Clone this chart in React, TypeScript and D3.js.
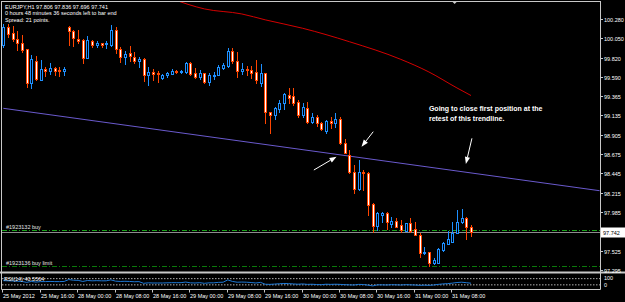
import React from 'react';
import * as d3 from 'd3';

const W = 625;
const H = 302;

// ---- Data (EURJPY H1) ----
const opens = [
  99.971, 100.185, 100.114, 100.042, 99.995, 99.923, 99.519, 99.781, 99.555, 99.685,
  99.662, 99.697, 99.674, 99.656, 100.185, 100.137, 100.042, 100.030, 99.816, 100.018,
  99.975, 99.995, 99.983, 99.975, 100.149, 99.929, 99.825, 99.872, 99.832, 99.784,
  99.808, 99.611, 99.650, 99.634, 99.578, 99.614, 99.626, 99.658, 99.646, 99.646,
  99.753, 99.634, 99.587, 99.641, 99.531, 99.602, 99.611, 99.694, 99.721, 99.903,
  99.784, 99.665, 99.682, 99.674, 99.646, 99.523, 99.641, 99.178, 99.138, 99.206,
  99.281, 99.382, 99.364, 99.293, 99.138, 99.222, 99.059, 99.118, 99.047, 98.948,
  99.067, 99.040, 99.094, 98.802, 98.663, 98.464, 98.255, 98.464, 98.445, 98.080,
  97.818, 97.949, 97.977, 97.842, 97.881, 97.830, 97.762, 97.851, 97.779, 97.711,
  97.494, 97.513, 97.375, 97.382, 97.533, 97.604, 97.632, 97.739, 97.870, 97.910,
  97.806,
];
const highs = [
  100.221, 100.221, 100.197, 100.137, 100.090, 99.923, 99.852, 99.840, 99.793, 99.709,
  99.757, 99.709, 99.709, 99.709, 100.197, 100.149, 100.149, 100.042, 100.078, 100.030,
  100.018, 99.995, 100.018, 100.212, 100.185, 99.951, 99.903, 99.959, 99.888, 99.832,
  99.816, 99.713, 99.689, 99.662, 99.622, 99.650, 99.682, 99.674, 99.674, 99.772,
  99.772, 99.694, 99.674, 99.641, 99.634, 99.650, 99.733, 99.753, 99.932, 99.935,
  99.888, 99.760, 99.721, 99.721, 99.793, 99.745, 99.641, 99.178, 99.237, 99.317,
  99.404, 99.456, 99.456, 99.317, 99.285, 99.293, 99.159, 99.138, 99.059, 99.079,
  99.118, 99.159, 99.115, 98.849, 98.722, 98.544, 98.603, 98.484, 98.464, 98.092,
  97.989, 97.989, 97.985, 97.922, 97.914, 97.890, 97.858, 97.910, 97.870, 97.732,
  97.572, 97.513, 97.434, 97.553, 97.628, 97.762, 97.870, 98.009, 98.017, 97.929,
  97.836,
];
const lows = [
  99.947, 100.066, 100.018, 99.911, 99.888, 99.471, 99.460, 99.555, 99.555, 99.602,
  99.626, 99.614, 99.602, 99.614, 99.971, 99.959, 99.995, 99.757, 99.816, 99.947,
  99.947, 99.947, 99.935, 99.959, 99.876, 99.769, 99.745, 99.784, 99.760, 99.709,
  99.546, 99.495, 99.555, 99.535, 99.567, 99.594, 99.626, 99.634, 99.634, 99.641,
  99.611, 99.575, 99.563, 99.523, 99.492, 99.563, 99.611, 99.682, 99.713, 99.753,
  99.587, 99.626, 99.614, 99.575, 99.515, 99.483, 99.040, 98.928, 99.087, 99.174,
  99.210, 99.281, 99.257, 99.118, 99.118, 99.043, 99.040, 99.008, 98.960, 98.928,
  98.980, 98.996, 98.794, 98.683, 98.449, 98.211, 98.246, 98.246, 97.949, 97.751,
  97.771, 97.870, 97.783, 97.810, 97.803, 97.751, 97.762, 97.751, 97.711, 97.453,
  97.485, 97.343, 97.367, 97.375, 97.525, 97.604, 97.632, 97.732, 97.858, 97.660,
  97.696,
];
const closes = [
  100.185, 100.102, 100.042, 99.995, 99.911, 99.519, 99.804, 99.567, 99.685, 99.662,
  99.697, 99.662, 99.662, 99.680, 100.137, 100.054, 100.018, 99.816, 100.030, 99.971,
  99.998, 99.975, 99.989, 100.149, 99.923, 99.828, 99.864, 99.840, 99.784, 99.808,
  99.611, 99.650, 99.622, 99.622, 99.614, 99.632, 99.658, 99.646, 99.658, 99.760,
  99.626, 99.594, 99.641, 99.531, 99.614, 99.614, 99.713, 99.729, 99.903, 99.784,
  99.662, 99.682, 99.668, 99.634, 99.555, 99.634, 99.178, 99.138, 99.218, 99.285,
  99.388, 99.337, 99.281, 99.144, 99.237, 99.055, 99.111, 99.040, 98.968, 99.067,
  99.040, 99.094, 98.802, 98.690, 98.464, 98.255, 98.464, 98.445, 98.068, 97.818,
  97.969, 97.977, 97.870, 97.881, 97.810, 97.771, 97.851, 97.762, 97.711, 97.494,
  97.513, 97.375, 97.414, 97.541, 97.620, 97.660, 97.739, 97.870, 97.910, 97.806,
  97.741,
];
const rsiValues = [
  57, 56, 55, 53, 52, 46, 52, 48, 51, 51, 52, 51, 51, 52,
  64, 60, 59, 52, 58, 56, 57, 56, 56, 62, 54, 52, 53, 52, 50, 51,
  40, 43, 42, 42, 42, 43, 44, 44, 44, 48, 43, 42, 44, 40, 43, 43, 46, 47,
  62, 52, 47, 48, 47, 45, 42, 46, 34, 33, 35, 37, 39, 38, 36, 34, 36, 33, 34, 32, 31, 34, 33, 34,
  33, 31, 30, 29, 33, 32, 28, 23, 30, 30, 29, 31, 30, 29, 31, 30, 29, 27, 28, 27, 29,
  33, 36, 38, 41, 45, 47, 44, 40.56,
];
const maBars = [36, 43, 51, 56, 64, 74, 85, 91, 97, 100];
const maValues = [100.52, 100.40, 100.34, 100.27, 100.17, 100.01, 99.80, 99.65, 99.46, 99.37];
const trendBars = [0, 127.5];
const trendPrices = [99.218, 98.238];
const priceTicks = [100.28, 100.05, 99.82, 99.59, 99.365, 99.135, 98.905, 98.675, 98.445, 98.215, 97.985, 97.525, 97.295];
const timeLabels = [
  '25 May 2012', '25 May 16:00', '28 May 00:00', '28 May 08:00', '28 May 16:00', '29 May 00:00',
  '29 May 08:00', '29 May 16:00', '30 May 00:00', '30 May 08:00', '30 May 16:00', '31 May 00:00', '31 May 08:00',
];
const timeLabelBars = [0, 8, 16, 24, 32, 40, 48, 56, 64, 72, 80, 88, 96];
const bidPrice = 97.742;
const buyPrice = 97.767;
const buyLimitPrice = 97.346;
const arrowsFrom = [[66.4, 98.484], [79.1, 98.94], [100.2, 98.861]];
const arrowsTo = [[71.25, 98.643], [76.6, 98.761], [98.9, 98.556]];
const noteLines = ['Going to close first position at the', 'retest of this trendline.'];
const headerLines = [
  'EURJPY,H1  97.806 97.836 97.696 97.741',
  '0 hours 48 minutes 36 seconds left to bar end',
  'Spread: 21 points.',
];

// ---- Layout ----
const plotLeft = 2;
const plotRight = 600;
const mainTop = 2;
const mainBottom = 271;
const rsiTop = 274;
const rsiBottom = 289.5;

const FONT = '"Liberation Sans", Arial, sans-serif';
const BULL = '#1e90ff';
const BEAR = '#ff4500';

export default function App() {
  const x = d3.scaleLinear().domain([0, 100]).range([3.3, 471]);
  const y = d3.scaleLinear().domain([97.295, 100.28]).range([270, 19]);
  const yr = d3.scaleLinear().domain([0, 100]).range([rsiBottom, rsiTop]);

  const maLine = d3.line<number>()
    .x((_, i) => x(maBars[i]))
    .y((d) => y(d))
    .curve(d3.curveMonotoneX)(maValues) || '';

  const rsiLine = d3.line<number>()
    .x((_, i) => x(i))
    .y((d) => yr(d))(rsiValues) || '';

  const candles = opens.map((o, i) => {
    const c = closes[i];
    const bull = c >= o;
    const color = bull ? BULL : BEAR;
    const cx = Math.round(x(i));
    const yTop = Math.round(y(Math.max(o, c)));
    const yBot = Math.round(y(Math.min(o, c)));
    const yH = Math.round(y(highs[i]));
    const yL = Math.round(y(lows[i]));
    return (
      <g key={i}>
        <line x1={cx + 0.5} x2={cx + 0.5} y1={yH} y2={yL + 1} stroke={color} strokeWidth={1} />
        <rect x={cx - 0.5} y={yTop + 0.5} width={2} height={Math.max(yBot - yTop, 0)}
          fill={bull ? '#000' : '#fff'} stroke={color} strokeWidth={1} />
      </g>
    );
  });

  const arrows = arrowsFrom.map((f, i) => {
    const x1 = x(f[0]), y1 = y(f[1]);
    const x2 = x(arrowsTo[i][0]), y2 = y(arrowsTo[i][1]);
    const ang = Math.atan2(y2 - y1, x2 - x1);
    const len = 7, hw = 2.6;
    const bx = x2 - len * Math.cos(ang), by = y2 - len * Math.sin(ang);
    const pts = [
      [x2, y2],
      [bx + hw * Math.sin(ang), by - hw * Math.cos(ang)],
      [bx - hw * Math.sin(ang), by + hw * Math.cos(ang)],
    ].map((p) => p.join(',')).join(' ');
    return (
      <g key={i}>
        <line x1={x1} y1={y1} x2={bx} y2={by} stroke="#fff" strokeWidth={1} />
        <polygon points={pts} fill="#fff" />
      </g>
    );
  });

  const yBid = Math.round(y(bidPrice)) + 0.5;
  const yBuy = Math.round(y(buyPrice)) + 0.5;
  const yLimit = Math.round(y(buyLimitPrice)) + 0.5;

  return (
    <div style={{ position: 'absolute', left: 0, top: 0 }}>
      <svg width={W} height={H} style={{ display: 'block', background: '#000' }} fontFamily={FONT}>
        <defs>
          <clipPath id="mainClip">
            <rect x={plotLeft} y={mainTop} width={plotRight - plotLeft} height={mainBottom - mainTop} />
          </clipPath>
        </defs>
        <rect x={0} y={0} width={W} height={H} fill="#000" />

        {/* order lines */}
        <line x1={plotLeft} x2={plotRight} y1={yBuy} y2={yBuy} stroke="#1aa51a" strokeWidth={1} strokeDasharray="5,2,1,2" />
        <line x1={plotLeft} x2={plotRight} y1={yLimit} y2={yLimit} stroke="#0b7a0b" strokeWidth={1} strokeDasharray="5,2,1,2" />
        <text x={6} y={yBuy - 2} fontSize={5.5} fill="#e6e6e6">#1923132 buy</text>
        <text x={6} y={yLimit - 2} fontSize={5.5} fill="#e6e6e6">#1923136 buy limit</text>
        {/* bid line */}
        <line x1={plotLeft} x2={plotRight} y1={yBid} y2={yBid} stroke="#8c8c8c" strokeWidth={1} />

        <g clipPath="url(#mainClip)">
          <path d={maLine} fill="none" stroke="#d40000" strokeWidth={1} />
          <line x1={x(trendBars[0])} y1={y(trendPrices[0])} x2={x(trendBars[1])} y2={y(trendPrices[1])}
            stroke="#6a5acd" strokeWidth={1} />
          {candles}
        </g>

        {arrows}
        {noteLines.map((t, i) => (
          <text key={i} x={x(91)} y={y(99.19) + i * 10} fontSize={7} fontWeight="bold" fill="#fff">{t}</text>
        ))}

        {/* header */}
        {headerLines.map((t, i) => (
          <text key={i} x={5} y={8.7 + i * 6.7} fontSize={5.5} fill="#fff">{t}</text>
        ))}

        {/* chart shift marker */}
        <polygon points={`${x(96.5) - 3},1 ${x(96.5) + 3},1 ${x(96.5)},4`} fill="#c8c8c8" />

        {/* borders */}
        <line x1={1.5} x2={1.5} y1={1} y2={rsiBottom} stroke="#c8c8c8" strokeWidth={1} />
        <line x1={1.5} x2={plotRight + 0.5} y1={1.5} y2={1.5} stroke="#c8c8c8" strokeWidth={1} />
        <line x1={plotRight + 0.5} x2={plotRight + 0.5} y1={1} y2={rsiBottom} stroke="#c8c8c8" strokeWidth={1} />
        <rect x={0} y={mainBottom + 0.5} width={W} height={2} fill="#c8c8c8" />
        <line x1={1.5} x2={plotRight + 0.5} y1={rsiBottom} y2={rsiBottom} stroke="#c8c8c8" strokeWidth={1} />

        {/* price axis */}
        {priceTicks.map((p) => {
          const yy = Math.round(y(p)) + 0.5;
          return (
            <g key={p}>
              <line x1={plotRight} x2={plotRight + 3} y1={yy} y2={yy} stroke="#c8c8c8" />
              <text x={604} y={yy + 2} fontSize={5.5} fill="#fff">{p.toFixed(3)}</text>
            </g>
          );
        })}
        <rect x={601} y={yBid - 5} width={24} height={10} fill="#fff" />
        <text x={603} y={yBid + 2} fontSize={5.5} fill="#000">{bidPrice.toFixed(3)}</text>

        {/* RSI panel */}
        <line x1={plotLeft} x2={plotRight} y1={yr(70)} y2={yr(70)} stroke="#ddd" strokeWidth={0.8} strokeDasharray="1.5,1.5" />
        <line x1={plotLeft} x2={plotRight} y1={yr(30)} y2={yr(30)} stroke="#ddd" strokeWidth={0.8} strokeDasharray="1.5,1.5" />
        <path d={rsiLine} fill="none" stroke="#1e7ad8" strokeWidth={1} />
        <text x={4} y={yr(70) + 2} fontSize={5.5} fill="#fff">RSI(14) 40.5564</text>
        <text x={604} y={yr(70) + 1} fontSize={5.5} fill="#fff">100</text>
        <text x={604} y={yr(30) + 2} fontSize={5.5} fill="#fff">0</text>

        {/* time axis */}
        {timeLabels.map((t, i) => {
          const xx = Math.round(x(timeLabelBars[i]));
          return (
            <g key={t}>
              <line x1={xx - 0.5} x2={xx - 0.5} y1={rsiBottom} y2={rsiBottom + 3} stroke="#c8c8c8" />
              <text x={xx} y={297.5} fontSize={5.5} fill="#fff">{t}</text>
            </g>
          );
        })}
      </svg>
    </div>
  );
}
